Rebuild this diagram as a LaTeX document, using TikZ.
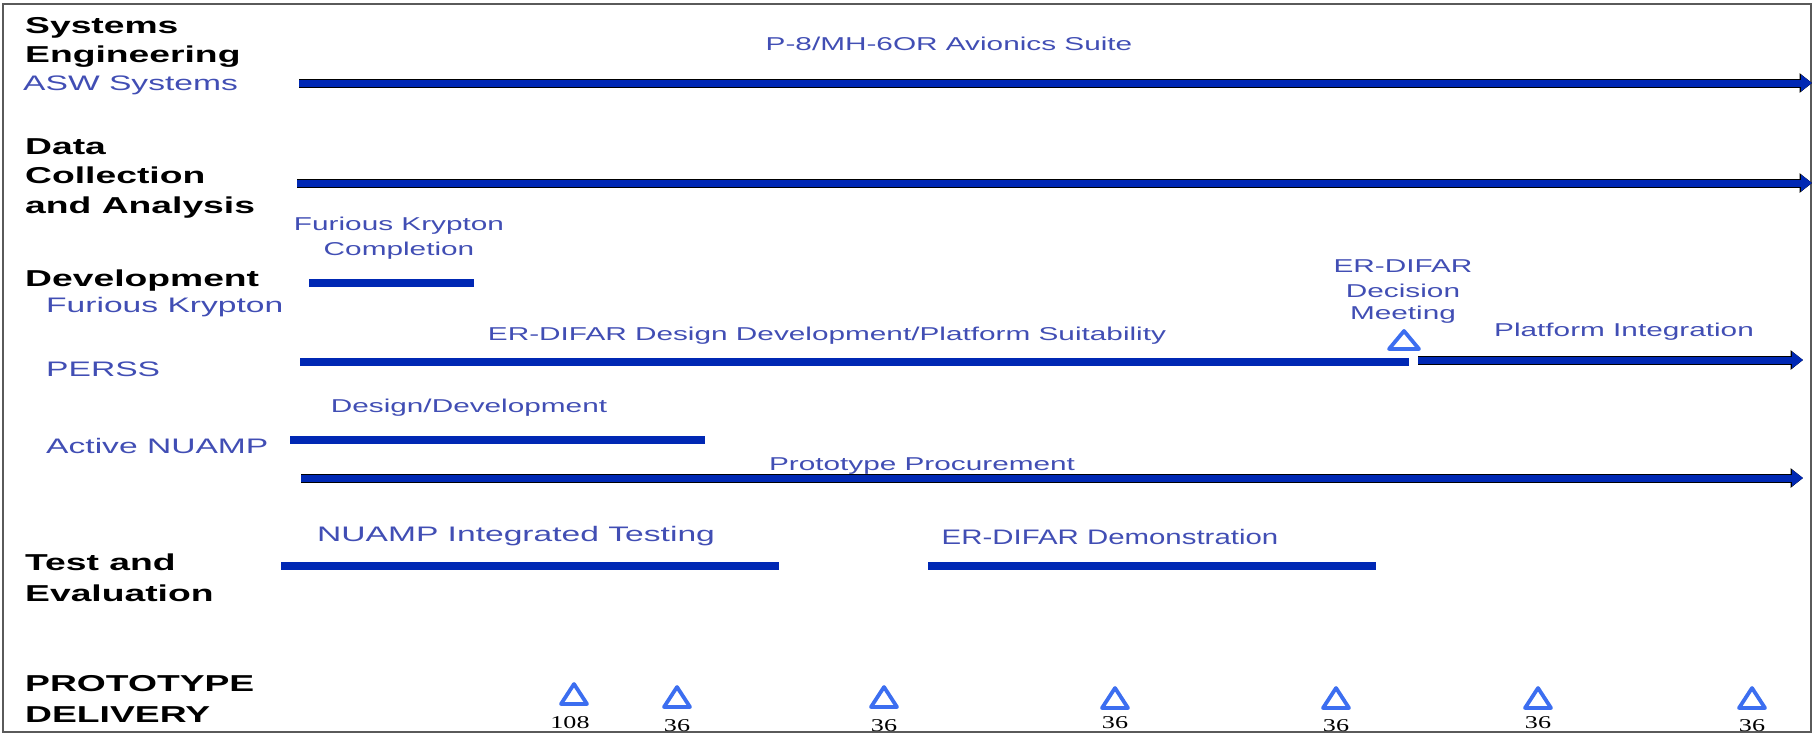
\documentclass[tikz,border=0pt]{standalone}
\usepackage{fontspec}
\setmainfont{Liberation Sans}
\newfontfamily\hdfont[FakeStretch=1.62]{Liberation Sans}
\newfontfamily\lbfont[FakeStretch=1.6]{Liberation Sans}
\newfontfamily\lbnfont[FakeStretch=1.4]{Liberation Sans}
\newfontfamily\numfont[FakeStretch=1.45]{Liberation Serif}
\usetikzlibrary{arrows.meta}
\definecolor{barblue}{RGB}{0,40,180}
\definecolor{txtblue}{RGB}{65,78,180}
\definecolor{triblue}{RGB}{60,110,240}
\definecolor{framegray}{RGB}{90,90,90}
\tikzset{
  hd/.style={inner sep=0pt, anchor=base west, text=black, font=\hdfont\bfseries\fontsize{23}{26}\selectfont},
  lb/.style={inner sep=0pt, anchor=base, text=txtblue, font=\lbfont\fontsize{18.6}{22}\selectfont},
  lbw/.style={lb, anchor=base west, font=\lbfont\fontsize{21}{24}\selectfont},
  lbbig/.style={lb, font=\lbfont\fontsize{21}{24}\selectfont},
  lbnar/.style={lb, font=\lbnfont\fontsize{21}{24}\selectfont},
  num/.style={inner sep=0pt, anchor=base, text=black, font=\numfont\fontsize{18}{20}\selectfont},
  gbar/.style={draw=barblue, line width=8.5pt},
  garrow/.style={draw=barblue, line width=7pt, -{Triangle[length=11pt,width=16pt]},
    preaction={draw=black, line width=9pt, -{Triangle[length=12.5pt,width=19pt]}}},
  deltri/.pic={\draw[triblue, line width=3.8pt, line join=round] (-13,10) -- (0,-10) -- (13,10) -- cycle;},
  bigtri/.pic={\draw[triblue, line width=3.8pt, line join=round] (-15,9) -- (0,-9) -- (15,9) -- cycle;}
}
\begin{document}
\begin{tikzpicture}[x=1pt, y=-1pt]
\useasboundingbox (0,0) rectangle (1814,736);
\draw[framegray, line width=1.5pt] (3,4) rectangle (1811,732);

% row headers
\node[hd] (se1) at (25,33) {Systems};
\node[hd] (se2) at (25,62) {Engineering};
\node[lbw] (asw) at (23,90) {ASW Systems};
\node[hd] (dc1) at (25,154) {Data};
\node[hd] (dc2) at (25,183) {Collection};
\node[hd] (dc3) at (25,213) {and Analysis};
\node[hd] (dev) at (25,286) {Development};
\node[lbw] (fkl) at (46,312) {Furious Krypton};
\node[lbw] (perss) at (46,376) {PERSS};
\node[lbw] (anu) at (46,453) {Active NUAMP};
\node[hd] (te1) at (25,570) {Test and};
\node[hd] (te2) at (25,601) {Evaluation};
\node[hd] (pd1) at (25,691) {PROTOTYPE};
\node[hd] (pd2) at (25,722) {DELIVERY};

% bar end points
\coordinate (a1s) at (299,83);  \coordinate (a1e) at (1812,83);
\coordinate (a2s) at (297,183); \coordinate (a2e) at (1812,183);
\coordinate (fks) at (309,283); \coordinate (fke) at (474,283);
\coordinate (pes) at (300,362); \coordinate (pee) at (1409,362);
\coordinate (pis) at (1418,360); \coordinate (pie) at (1803,360);
\coordinate (nus) at (290,440); \coordinate (nue) at (705,440);
\coordinate (pps) at (301,478); \coordinate (ppe) at (1803,478);
\coordinate (its) at (281,566); \coordinate (ite) at (779,566);
\coordinate (eds) at (928,566); \coordinate (ede) at (1376,566);

\draw[garrow] (a1s) -- (a1e);
\draw[garrow] (a2s) -- (a2e);
\draw[gbar] (fks) -- (fke);
\draw[gbar] (pes) -- (pee);
\draw[garrow] (pis) -- (pie);
\draw[gbar] (nus) -- (nue);
\draw[garrow] (pps) -- (ppe);
\draw[gbar] (its) -- (ite);
\draw[gbar] (eds) -- (ede);

% bar labels
\node[lb] (avs) at (949,50) {P-8/MH-6OR Avionics Suite};
\node[lb] (fkc1) at (399,230) {Furious Krypton};
\node[lb] (fkc2) at (399,255) {Completion};
\node[lb] (erd) at (827,340) {ER-DIFAR Design Development/Platform Suitability};
\node[lb] (dm1) at (1403,272) {ER-DIFAR};
\node[lb] (dm2) at (1403,297) {Decision};
\node[lb] (dm3) at (1403,319) {Meeting};
\node[lb] (pint) at (1624,336) {Platform Integration};
\node[lb] (dd) at (469,412) {Design/Development};
\node[lb] (ppr) at (922,470) {Prototype Procurement};
\node[lbbig] (nit) at (516,541) {NUAMP Integrated Testing};
\node[lbnar] (edm) at (1110,544) {ER-DIFAR Demonstration};

% milestones
\pic (dtri) at (1404,340) {bigtri};
\pic (t1) at (574,694) {deltri};
\pic (t2) at (677,697) {deltri};
\pic (t3) at (884,697) {deltri};
\pic (t4) at (1115,698) {deltri};
\pic (t5) at (1336,698) {deltri};
\pic (t6) at (1538,698) {deltri};
\pic (t7) at (1752,698) {deltri};
\node[num] (n1) at (570,728) {108};
\node[num] (n2) at (677,731) {36};
\node[num] (n3) at (884,731) {36};
\node[num] (n4) at (1115,728) {36};
\node[num] (n5) at (1336,731) {36};
\node[num] (n6) at (1538,728) {36};
\node[num] (n7) at (1752,731) {36};
\end{tikzpicture}
\end{document}
